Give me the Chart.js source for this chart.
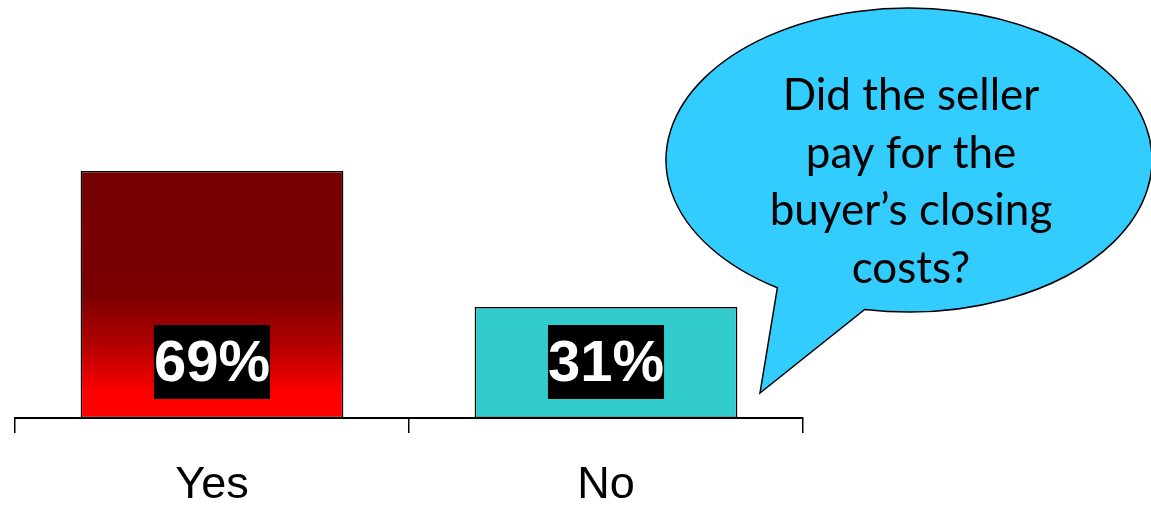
<!DOCTYPE html>
<html lang="en">
  <head>
    <meta charset="UTF-8" />
    <title>Seller paid closing costs</title>
    <script src="https://cdn.jsdelivr.net/npm/chart.js@4.4.1/dist/chart.umd.min.js"></script>
    <style>
      body {
        margin: 0;
        background: #ffffff;
        overflow: hidden;
      }
      .chart-box {
        width: 1151px;
        height: 539px;
        position: relative;
      }
    </style>
  </head>
  <body>
    <div class="chart-box">
      <canvas id="closingChart"></canvas>
    </div>

    <script>
      const categories = ["Yes", "No"];
      const shares = [69, 31];
      const valueLabels = ["69%", "31%"];
      const bubbleLines = ["Did the seller", "pay for the", "buyer\u2019s closing", "costs?"];

      // dark red on top fading into bright red near the axis
      function yesGradient(context) {
        const chart = context.chart;
        const area = chart.chartArea;
        if (!area) return "#770000";
        const y = chart.scales.y;
        const top = y.getPixelForValue(shares[0]);
        const base = y.getPixelForValue(0);
        const g = chart.ctx.createLinearGradient(0, top, 0, base);
        g.addColorStop(0, "#760000");
        g.addColorStop(0.5, "#7a0000");
        g.addColorStop(0.7, "#b00000");
        g.addColorStop(0.9, "#ff0000");
        g.addColorStop(1, "#ff0000");
        return g;
      }

      const valueBoxes = {
        id: "valueBoxes",
        afterDatasetsDraw(chart) {
          const ctx = chart.ctx;
          const meta = chart.getDatasetMeta(0);
          ctx.save();
          ctx.font = "bold 58px 'Liberation Sans', Arial, sans-serif";
          ctx.textAlign = "center";
          ctx.textBaseline = "middle";
          meta.data.forEach((bar, i) => {
            const text = valueLabels[i];
            const w = ctx.measureText(text).width;
            const h = 74;
            const cy = bar.base - 56;
            ctx.fillStyle = "#000000";
            ctx.fillRect(bar.x - w / 2, cy - h / 2, w, h);
            ctx.fillStyle = "#ffffff";
            ctx.fillText(text, bar.x, cy + 3);
          });
          ctx.restore();
        },
      };

      const speechBubble = {
        id: "speechBubble",
        afterDraw(chart) {
          const ctx = chart.ctx;
          const cx = 909, cy = 160, rx = 243, ry = 152;
          const a1 = (122.8 * Math.PI) / 180;
          const a2 = (100.5 * Math.PI) / 180;
          ctx.save();
          ctx.beginPath();
          ctx.ellipse(cx, cy, rx, ry, 0, a1, a2, false);
          ctx.lineTo(760, 393);
          ctx.closePath();
          ctx.fillStyle = "#33ccff";
          ctx.fill();
          ctx.lineWidth = 1.5;
          ctx.strokeStyle = "#000000";
          ctx.stroke();

          ctx.fillStyle = "#000000";
          ctx.font = "44px Lato, 'Open Sans', sans-serif";
          ctx.textAlign = "center";
          ctx.textBaseline = "alphabetic";
          bubbleLines.forEach((line, i) => {
            ctx.fillText(line, 911, 110 + i * 57.5);
          });
          ctx.restore();
        },
      };

      new Chart(document.getElementById("closingChart"), {
        type: "bar",
        data: {
          labels: categories,
          datasets: [
            {
              data: shares,
              backgroundColor: (c) => (c.dataIndex === 0 ? yesGradient(c) : "#33cccc"),
              borderColor: "#000000",
              borderWidth: 1.5,
              borderSkipped: false,
              barPercentage: 0.667,
              categoryPercentage: 1,
            },
          ],
        },
        options: {
          responsive: true,
          maintainAspectRatio: false,
          animation: false,
          layout: { padding: { left: 15, right: 348, top: 60, bottom: 0 } },
          plugins: {
            legend: { display: false },
            tooltip: { enabled: false },
          },
          scales: {
            y: {
              display: false,
              min: 0,
              max: 100,
            },
            x: {
              border: { display: true, color: "#000000", width: 2 },
              grid: {
                display: true,
                offset: true,
                drawOnChartArea: false,
                drawTicks: true,
                tickLength: 15,
                color: "#000000",
                lineWidth: 1.5,
              },
              ticks: {
                color: "#000000",
                padding: 26,
                font: { family: "'Liberation Sans', Arial, sans-serif", size: 45 },
              },
            },
          },
        },
        plugins: [valueBoxes, speechBubble],
      });
    </script>
  </body>
</html>
